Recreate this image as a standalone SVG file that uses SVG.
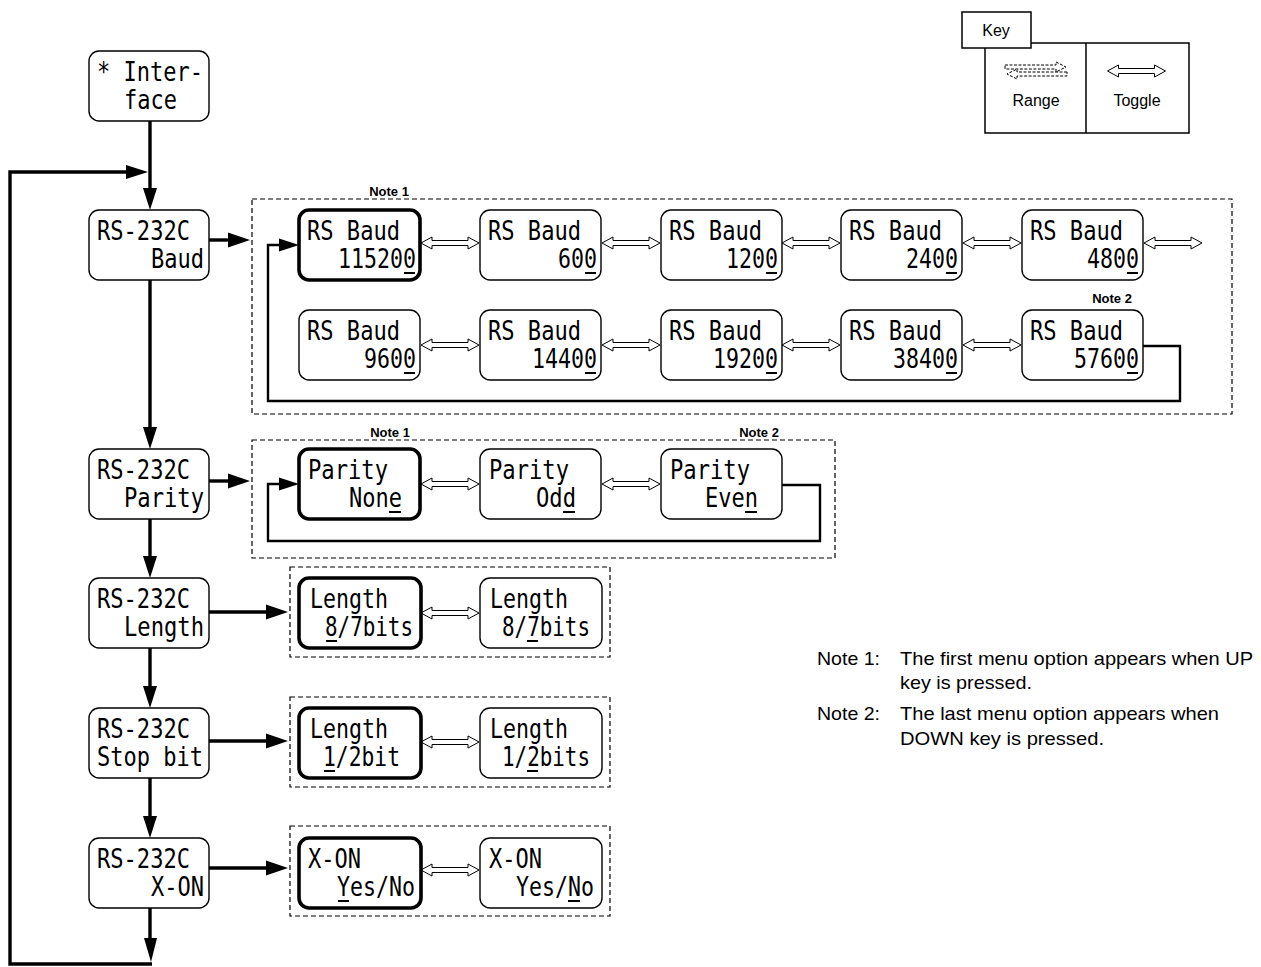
<svg xmlns="http://www.w3.org/2000/svg" xmlns:xlink="http://www.w3.org/1999/xlink" width="1261" height="967" viewBox="0 0 1261 967">
<style>
.n rect{fill:#fff;stroke:#000;stroke-width:1.4}
.n.sel rect{stroke-width:3.6}
.lcd{font-family:"DejaVu Sans Mono",monospace;font-size:27px;fill:#000}
.ul{stroke:#000;stroke-width:2}
.grp{fill:none;stroke:#000;stroke-width:1.2;stroke-dasharray:5 3}
.note{font-family:"Liberation Sans",Arial,sans-serif;font-weight:bold;font-size:13px;text-anchor:middle}
.txt{font-family:"Liberation Sans",Arial,sans-serif;font-size:19px}
.ktxt{font-family:"Liberation Sans",Arial,sans-serif;font-size:16px;text-anchor:middle}
.conn .th{stroke:#000;stroke-width:3.4;fill:none}
.conn .md{stroke:#000;stroke-width:2.4;fill:none}
.conn .hd{fill:#000}
.dbl{fill:#fff;stroke:#000;stroke-width:1}
.rng{fill:#fff;stroke:#000;stroke-width:1;stroke-dasharray:3 1.5}
.kbox{fill:#fff;stroke:#000;stroke-width:1.5}
</style>
<defs>
<path id="dbl" d="M-29,0 L-18,-6 L-18,-2.5 L18,-2.5 L18,-6 L29,0 L18,6 L18,2.5 L-18,2.5 L-18,6 Z"/>
</defs>

<!-- Key -->
<g id="key">
<rect class="kbox" x="985" y="43" width="204" height="90"/>
<line x1="1086" y1="43" x2="1086" y2="133" stroke="#000" stroke-width="1.5"/>
<rect class="kbox" x="962" y="12" width="69" height="36"/>
<text class="ktxt" x="996" y="36">Key</text>
<path class="rng" d="M1005,65 L1056,65 L1056,62 L1066,67 L1056,72 L1056,69 L1005,69 Z"/>
<path class="rng" d="M1067,72 L1017,72 L1017,69 L1007,74 L1017,79 L1017,76 L1067,76 Z"/>
<use xlink:href="#dbl" href="#dbl" class="dbl" transform="translate(1136.5,71)"/>
<text class="ktxt" x="1036" y="106">Range</text>
<text class="ktxt" x="1137" y="106">Toggle</text>
</g>

<!-- Group boxes -->
<g id="groups">
<rect class="grp" x="252" y="199" width="980" height="215"/>
<rect class="grp" x="252" y="440" width="583" height="118"/>
<rect class="grp" x="290" y="567" width="320" height="90"/>
<rect class="grp" x="290" y="697" width="320" height="90"/>
<rect class="grp" x="290" y="826" width="320" height="90"/>
<text class="note" x="389" y="196">Note 1</text>
<text class="note" x="1112" y="303">Note 2</text>
<text class="note" x="390" y="437">Note 1</text>
<text class="note" x="759" y="437">Note 2</text>
</g>

<!-- Connectors -->
<g id="connectors" class="conn">
<line class="th" x1="150" y1="120" x2="150" y2="192"/>
<polygon class="hd" points="143,188 157,188 150,210"/>
<line class="th" x1="150" y1="280" x2="150" y2="431"/>
<polygon class="hd" points="143,427 157,427 150,449"/>
<line class="th" x1="150" y1="519" x2="150" y2="560"/>
<polygon class="hd" points="143,556 157,556 150,578"/>
<line class="th" x1="150" y1="648" x2="150" y2="690"/>
<polygon class="hd" points="143,686 157,686 150,708"/>
<line class="th" x1="150" y1="778" x2="150" y2="820"/>
<polygon class="hd" points="143,816 157,816 150,838"/>
<line class="th" x1="150" y1="908" x2="150" y2="942"/>
<polygon class="hd" points="144,938 157,938 151,962"/>
<polyline class="th" points="152,964 10,964 10,172 130,172"/>
<polygon class="hd" points="126,165 148,172 126,179"/>
<line class="th" x1="209" y1="240" x2="230" y2="240"/>
<polygon class="hd" points="228,232.5 250,240 228,247.5"/>
<line class="th" x1="209" y1="481" x2="230" y2="481"/>
<polygon class="hd" points="228,473.5 250,481 228,488.5"/>
<line class="th" x1="209" y1="612" x2="268" y2="612"/>
<polygon class="hd" points="266,604.5 288,612 266,619.5"/>
<line class="th" x1="209" y1="741" x2="268" y2="741"/>
<polygon class="hd" points="266,733.5 288,741 266,748.5"/>
<line class="th" x1="209" y1="868" x2="268" y2="868"/>
<polygon class="hd" points="266,860.5 288,868 266,875.5"/>
<polyline class="md" points="1143,346 1180,346 1180,401 268,401 268,245 281,245"/>
<polygon class="hd" points="279,238.5 299,245 279,251.5"/>
<polyline class="md" points="782,485 820,485 820,541 268,541 268,484 281,484"/>
<polygon class="hd" points="279,477.5 299,484 279,490.5"/>
<g class="dbl">
<use xlink:href="#dbl" href="#dbl" transform="translate(450,243)"/>
<use xlink:href="#dbl" href="#dbl" transform="translate(631,243)"/>
<use xlink:href="#dbl" href="#dbl" transform="translate(811,243)"/>
<use xlink:href="#dbl" href="#dbl" transform="translate(992,243)"/>
<use xlink:href="#dbl" href="#dbl" transform="translate(1173,243)"/>
<use xlink:href="#dbl" href="#dbl" transform="translate(450,345)"/>
<use xlink:href="#dbl" href="#dbl" transform="translate(631,345)"/>
<use xlink:href="#dbl" href="#dbl" transform="translate(811,345)"/>
<use xlink:href="#dbl" href="#dbl" transform="translate(992,345)"/>
<use xlink:href="#dbl" href="#dbl" transform="translate(450,484)"/>
<use xlink:href="#dbl" href="#dbl" transform="translate(631,484)"/>
<use xlink:href="#dbl" href="#dbl" transform="translate(450,613)"/>
<use xlink:href="#dbl" href="#dbl" transform="translate(450,742)"/>
<use xlink:href="#dbl" href="#dbl" transform="translate(450,870)"/>
</g>
</g>

<!-- Left column nodes -->
<g id="n-interface" class="n"><rect x="89" y="51" width="120" height="70" rx="10"/>
<text class="lcd" x="97" y="81" textLength="106" lengthAdjust="spacingAndGlyphs">* Inter-</text>
<text class="lcd" x="124" y="109" textLength="53" lengthAdjust="spacingAndGlyphs">face</text></g>
<g id="n-baud" class="n"><rect x="89" y="210" width="120" height="70" rx="10"/>
<text class="lcd" x="97" y="240" textLength="93" lengthAdjust="spacingAndGlyphs">RS-232C</text>
<text class="lcd" x="151" y="268" textLength="53" lengthAdjust="spacingAndGlyphs">Baud</text></g>
<g id="n-parity" class="n"><rect x="89" y="449" width="120" height="70" rx="10"/>
<text class="lcd" x="97" y="479" textLength="93" lengthAdjust="spacingAndGlyphs">RS-232C</text>
<text class="lcd" x="124" y="507" textLength="80" lengthAdjust="spacingAndGlyphs">Parity</text></g>
<g id="n-length" class="n"><rect x="89" y="578" width="120" height="70" rx="10"/>
<text class="lcd" x="97" y="608" textLength="93" lengthAdjust="spacingAndGlyphs">RS-232C</text>
<text class="lcd" x="124" y="636" textLength="80" lengthAdjust="spacingAndGlyphs">Length</text></g>
<g id="n-stopbit" class="n"><rect x="89" y="708" width="120" height="70" rx="10"/>
<text class="lcd" x="97" y="738" textLength="93" lengthAdjust="spacingAndGlyphs">RS-232C</text>
<text class="lcd" x="97" y="766" textLength="106" lengthAdjust="spacingAndGlyphs">Stop bit</text></g>
<g id="n-xon" class="n"><rect x="89" y="838" width="120" height="70" rx="10"/>
<text class="lcd" x="97" y="868" textLength="93" lengthAdjust="spacingAndGlyphs">RS-232C</text>
<text class="lcd" x="151" y="896" textLength="53" lengthAdjust="spacingAndGlyphs">X-ON</text></g>

<!-- Baud options row 1 -->
<g id="b-115200" class="n sel"><rect x="299" y="210" width="121" height="70" rx="10"/>
<text class="lcd" x="307" y="240" textLength="93" lengthAdjust="spacingAndGlyphs">RS Baud</text>
<text class="lcd" x="338" y="268" textLength="78" lengthAdjust="spacingAndGlyphs">115200</text>
<line class="ul" x1="404" y1="273" x2="415" y2="273"/></g>
<g id="b-600" class="n"><rect x="480" y="210" width="121" height="70" rx="10"/>
<text class="lcd" x="488" y="240" textLength="93" lengthAdjust="spacingAndGlyphs">RS Baud</text>
<text class="lcd" x="558" y="268" textLength="39" lengthAdjust="spacingAndGlyphs">600</text>
<line class="ul" x1="585" y1="273" x2="596" y2="273"/></g>
<g id="b-1200" class="n"><rect x="661" y="210" width="121" height="70" rx="10"/>
<text class="lcd" x="669" y="240" textLength="93" lengthAdjust="spacingAndGlyphs">RS Baud</text>
<text class="lcd" x="726" y="268" textLength="52" lengthAdjust="spacingAndGlyphs">1200</text>
<line class="ul" x1="766" y1="273" x2="777" y2="273"/></g>
<g id="b-2400" class="n"><rect x="841" y="210" width="121" height="70" rx="10"/>
<text class="lcd" x="849" y="240" textLength="93" lengthAdjust="spacingAndGlyphs">RS Baud</text>
<text class="lcd" x="906" y="268" textLength="52" lengthAdjust="spacingAndGlyphs">2400</text>
<line class="ul" x1="946" y1="273" x2="957" y2="273"/></g>
<g id="b-4800" class="n"><rect x="1022" y="210" width="121" height="70" rx="10"/>
<text class="lcd" x="1030" y="240" textLength="93" lengthAdjust="spacingAndGlyphs">RS Baud</text>
<text class="lcd" x="1087" y="268" textLength="52" lengthAdjust="spacingAndGlyphs">4800</text>
<line class="ul" x1="1127" y1="273" x2="1138" y2="273"/></g>

<!-- Baud options row 2 -->
<g id="b-9600" class="n"><rect x="299" y="310" width="121" height="70" rx="10"/>
<text class="lcd" x="307" y="340" textLength="93" lengthAdjust="spacingAndGlyphs">RS Baud</text>
<text class="lcd" x="364" y="368" textLength="52" lengthAdjust="spacingAndGlyphs">9600</text>
<line class="ul" x1="404" y1="373" x2="415" y2="373"/></g>
<g id="b-14400" class="n"><rect x="480" y="310" width="121" height="70" rx="10"/>
<text class="lcd" x="488" y="340" textLength="93" lengthAdjust="spacingAndGlyphs">RS Baud</text>
<text class="lcd" x="532" y="368" textLength="65" lengthAdjust="spacingAndGlyphs">14400</text>
<line class="ul" x1="585" y1="373" x2="596" y2="373"/></g>
<g id="b-19200" class="n"><rect x="661" y="310" width="121" height="70" rx="10"/>
<text class="lcd" x="669" y="340" textLength="93" lengthAdjust="spacingAndGlyphs">RS Baud</text>
<text class="lcd" x="713" y="368" textLength="65" lengthAdjust="spacingAndGlyphs">19200</text>
<line class="ul" x1="766" y1="373" x2="777" y2="373"/></g>
<g id="b-38400" class="n"><rect x="841" y="310" width="121" height="70" rx="10"/>
<text class="lcd" x="849" y="340" textLength="93" lengthAdjust="spacingAndGlyphs">RS Baud</text>
<text class="lcd" x="893" y="368" textLength="65" lengthAdjust="spacingAndGlyphs">38400</text>
<line class="ul" x1="946" y1="373" x2="957" y2="373"/></g>
<g id="b-57600" class="n"><rect x="1022" y="310" width="121" height="70" rx="10"/>
<text class="lcd" x="1030" y="340" textLength="93" lengthAdjust="spacingAndGlyphs">RS Baud</text>
<text class="lcd" x="1074" y="368" textLength="65" lengthAdjust="spacingAndGlyphs">57600</text>
<line class="ul" x1="1127" y1="373" x2="1138" y2="373"/></g>

<!-- Parity options -->
<g id="p-none" class="n sel"><rect x="299" y="449" width="121" height="70" rx="10"/>
<text class="lcd" x="308" y="479" textLength="80" lengthAdjust="spacingAndGlyphs">Parity</text>
<text class="lcd" x="349" y="507" textLength="53" lengthAdjust="spacingAndGlyphs">None</text>
<line class="ul" x1="389" y1="512" x2="401" y2="512"/></g>
<g id="p-odd" class="n"><rect x="480" y="449" width="121" height="70" rx="10"/>
<text class="lcd" x="489" y="479" textLength="80" lengthAdjust="spacingAndGlyphs">Parity</text>
<text class="lcd" x="536" y="507" textLength="40" lengthAdjust="spacingAndGlyphs">Odd</text>
<line class="ul" x1="563" y1="512" x2="575" y2="512"/></g>
<g id="p-even" class="n"><rect x="661" y="449" width="121" height="70" rx="10"/>
<text class="lcd" x="670" y="479" textLength="80" lengthAdjust="spacingAndGlyphs">Parity</text>
<text class="lcd" x="705" y="507" textLength="53" lengthAdjust="spacingAndGlyphs">Even</text>
<line class="ul" x1="745" y1="512" x2="757" y2="512"/></g>

<!-- Length options -->
<g id="l-8" class="n sel"><rect x="299" y="578" width="122" height="70" rx="10"/>
<text class="lcd" x="310" y="608" textLength="78" lengthAdjust="spacingAndGlyphs">Length</text>
<text class="lcd" x="325" y="636" textLength="88" lengthAdjust="spacingAndGlyphs">8/7bits</text>
<line class="ul" x1="326" y1="641" x2="337" y2="641"/></g>
<g id="l-7" class="n"><rect x="480" y="578" width="122" height="70" rx="10"/>
<text class="lcd" x="490" y="608" textLength="78" lengthAdjust="spacingAndGlyphs">Length</text>
<text class="lcd" x="502" y="636" textLength="88" lengthAdjust="spacingAndGlyphs">8/7bits</text>
<line class="ul" x1="527" y1="641" x2="538" y2="641"/></g>

<!-- Stop bit options -->
<g id="s-1" class="n sel"><rect x="299" y="708" width="122" height="70" rx="10"/>
<text class="lcd" x="310" y="738" textLength="78" lengthAdjust="spacingAndGlyphs">Length</text>
<text class="lcd" x="323" y="766" textLength="77" lengthAdjust="spacingAndGlyphs">1/2bit</text>
<line class="ul" x1="324" y1="771" x2="335" y2="771"/></g>
<g id="s-2" class="n"><rect x="480" y="708" width="122" height="70" rx="10"/>
<text class="lcd" x="490" y="738" textLength="78" lengthAdjust="spacingAndGlyphs">Length</text>
<text class="lcd" x="502" y="766" textLength="88" lengthAdjust="spacingAndGlyphs">1/2bits</text>
<line class="ul" x1="527" y1="771" x2="538" y2="771"/></g>

<!-- X-ON options -->
<g id="x-yes" class="n sel"><rect x="299" y="838" width="122" height="70" rx="10"/>
<text class="lcd" x="308" y="868" textLength="53" lengthAdjust="spacingAndGlyphs">X-ON</text>
<text class="lcd" x="337" y="896" textLength="78" lengthAdjust="spacingAndGlyphs">Yes/No</text>
<line class="ul" x1="338" y1="901" x2="349" y2="901"/></g>
<g id="x-no" class="n"><rect x="480" y="838" width="122" height="70" rx="10"/>
<text class="lcd" x="489" y="868" textLength="53" lengthAdjust="spacingAndGlyphs">X-ON</text>
<text class="lcd" x="516" y="896" textLength="78" lengthAdjust="spacingAndGlyphs">Yes/No</text>
<line class="ul" x1="568" y1="901" x2="580" y2="901"/></g>

<!-- Notes -->
<g id="notes">
<text class="txt" x="817" y="665" textLength="63" lengthAdjust="spacingAndGlyphs">Note 1:</text>
<text class="txt" x="900" y="665" textLength="353" lengthAdjust="spacingAndGlyphs">The first menu option appears when UP</text>
<text class="txt" x="900" y="689" textLength="132" lengthAdjust="spacingAndGlyphs">key is pressed.</text>
<text class="txt" x="817" y="720" textLength="63" lengthAdjust="spacingAndGlyphs">Note 2:</text>
<text class="txt" x="900" y="720" textLength="319" lengthAdjust="spacingAndGlyphs">The last menu option appears when</text>
<text class="txt" x="900" y="745" textLength="204" lengthAdjust="spacingAndGlyphs">DOWN key is pressed.</text>
</g>
</svg>
